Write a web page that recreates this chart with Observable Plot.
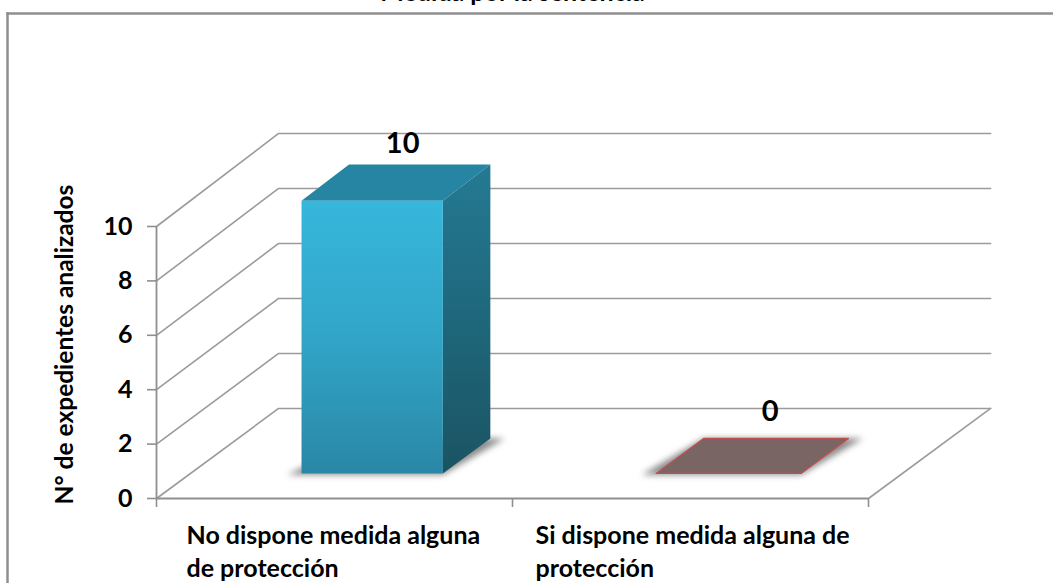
<!DOCTYPE html>
<html><head><meta charset="utf-8">
<script src="https://cdn.jsdelivr.net/npm/d3@7"></script>
<script src="https://cdn.jsdelivr.net/npm/@observablehq/plot@0.6"></script>
<style>
html,body{margin:0;padding:0;background:#fff;overflow:hidden}
svg{display:block}
.shadow{filter:blur(3px)}
</style></head><body>
<div id="chart"></div>
<script>
const categories = ["No dispone medida alguna\nde protección", "Si dispone medida alguna de\nprotección"];
const values = [10, 0];
const valueLabels = ["10", "0"];
const yTicks = [0, 2, 4, 6, 8, 10];
const xTicks = [0, 1, 2];
const yTitle = "N° de expedientes analizados";
const chartTitle = "Medida por la sentencia";

// oblique projection of the 3-D plot box, in data units
const depthX = 0.343, depthY = 3.31, backScale = 1.011;
const P = (x, v, d) => ({x: x + d * depthX, y: v * (1 + d * (backScale - 1)) + d * depthY});
const poly = pts => [...pts, pts[0]];

const barD0 = 0.278, barD1 = 0.667;
const barX = [[0.312, 0.709], [1.308, 1.715]];

const walls = yTicks.map(v => [P(0, v, 0), P(0, v, 1), P(2, v, 1)]);
const floorRight = [P(2, 0, 0), P(2, 0, 1)];

const grid = {stroke: "#9b9b9b", strokeWidth: 1.6};
const labelFont = {fill: "#000", fontWeight: 700};
const marks = [
  Plot.frame({anchor: "top", stroke: "#8f8f8f", strokeWidth: 2.5}),
  Plot.frame({anchor: "left", stroke: "#8f8f8f", strokeWidth: 2.5}),
  ...walls.map(w => Plot.line(w, {x: "x", y: "y", ...grid})),
  Plot.line(floorRight, {x: "x", y: "y", ...grid}),
  Plot.axisY({anchor: "left", ticks: yTicks, tickSize: 9, tickPadding: 16, dx: 149, label: null,
    stroke: "#8f8f8f", strokeWidth: 1.6, color: "#8f8f8f", tickFormat: () => ""}),
  Plot.axisX({anchor: "bottom", ticks: xTicks, tickSize: 9, dy: -85, label: null,
    stroke: "#8f8f8f", strokeWidth: 1.6, color: "#8f8f8f", tickFormat: () => ""}),
  Plot.ruleX([0], {y1: 0, y2: 10, stroke: "#8f8f8f", strokeWidth: 1.8}),
  Plot.ruleY([0], {x1: 0, x2: 2, stroke: "#8f8f8f", strokeWidth: 1.8}),
  Plot.text(yTicks, {x: () => 0, y: d => d, dx: -24, textAnchor: "end", ...labelFont, fontSize: 25, text: d => String(d)}),
];

values.forEach((v, i) => {
  const [a, b] = barX[i];
  const e = 0.04;
  const foot = [P(a - e, -0.05, barD0), P(b, -0.05, barD0), P(b + e, 0, barD1), P(a + (v > 0 ? e : 0), 0, barD1)];
  marks.push(Plot.line(poly(foot), {x: "x", y: "y", fill: "#8a8a8a", stroke: "none", className: "shadow"}));
  if (v > 0) {
    marks.push(
      Plot.line(poly([P(a, v, barD0), P(a, v, barD1), P(b, v, barD1), P(b, v, barD0)]), {x: "x", y: "y", fill: "#2585a2", stroke: "none"}),
      Plot.line(poly([P(b, v, barD0), P(b, v, barD1), P(b, 0, barD1), P(b, 0, barD0)]), {x: "x", y: "y", fill: "url(#sideGrad)", stroke: "none"}),
      Plot.line(poly([P(a, 0, barD0), P(a, v, barD0), P(b, v, barD0), P(b, 0, barD0)]), {x: "x", y: "y", fill: "url(#frontGrad)", stroke: "none"})
    );
  } else {
    marks.push(Plot.line(poly([P(a, 0, barD0), P(a, 0, barD1), P(b, 0, barD1), P(b, 0, barD0)]),
      {x: "x", y: "y", fill: "#7a6565", stroke: "#c0504d", strokeWidth: 1.3}));
  }
});

const labelPts = values.map((v, i) => ({...P((barX[i][0] + barX[i][1]) / 2, v, barD1), t: valueLabels[i]}));
const catLabel = {y: () => 0, dy: 51, textAnchor: "start", lineAnchor: "middle", lineHeight: 1.32, ...labelFont, fontSize: 25, text: d => d};
marks.push(
  Plot.text([labelPts[0]], {x: "x", y: "y", text: "t", dy: -21, dx: -17, ...labelFont, fontSize: 29}),
  Plot.text([labelPts[1]], {x: "x", y: "y", text: "t", dy: -27, dx: -6, ...labelFont, fontSize: 29}),
  Plot.text([categories[0]], {x: () => 0, dx: 30, ...catLabel}),
  Plot.text([categories[1]], {x: () => 1, dx: 23, ...catLabel}),
  Plot.text([yTitle], {frameAnchor: "left", y: () => 5.66, dx: 58, textAnchor: "middle", rotate: -90, ...labelFont, fontSize: 24.5, text: d => d}),
  Plot.text([chartTitle], {x: () => 1, frameAnchor: "top", dy: -12.5, lineAnchor: "bottom", ...labelFont, fontSize: 25, text: d => d})
);

const chart = Plot.plot({
  width: 1053, height: 583,
  marginTop: 13, marginLeft: 7, marginRight: 0, marginBottom: 0,
  style: {fontFamily: "Lato, sans-serif", background: "#fff", overflow: "hidden"},
  x: {domain: [0, 2], range: [156, 868], axis: null},
  y: {domain: [0, 10], range: [498, 226], axis: null},
  marks
});
const defs = document.createElementNS("http://www.w3.org/2000/svg", "defs");
defs.innerHTML = `
<linearGradient id="frontGrad" x1="0" y1="0" x2="0" y2="1"><stop offset="0" stop-color="#36b7dc"/><stop offset="0.5" stop-color="#31a5c8"/><stop offset="1" stop-color="#2a87a6"/></linearGradient>
<linearGradient id="sideGrad" x1="0" y1="0" x2="0" y2="1"><stop offset="0" stop-color="#247a93"/><stop offset="1" stop-color="#1a5463"/></linearGradient>`;
chart.prepend(defs);
document.getElementById("chart").append(chart);
</script></body></html>
